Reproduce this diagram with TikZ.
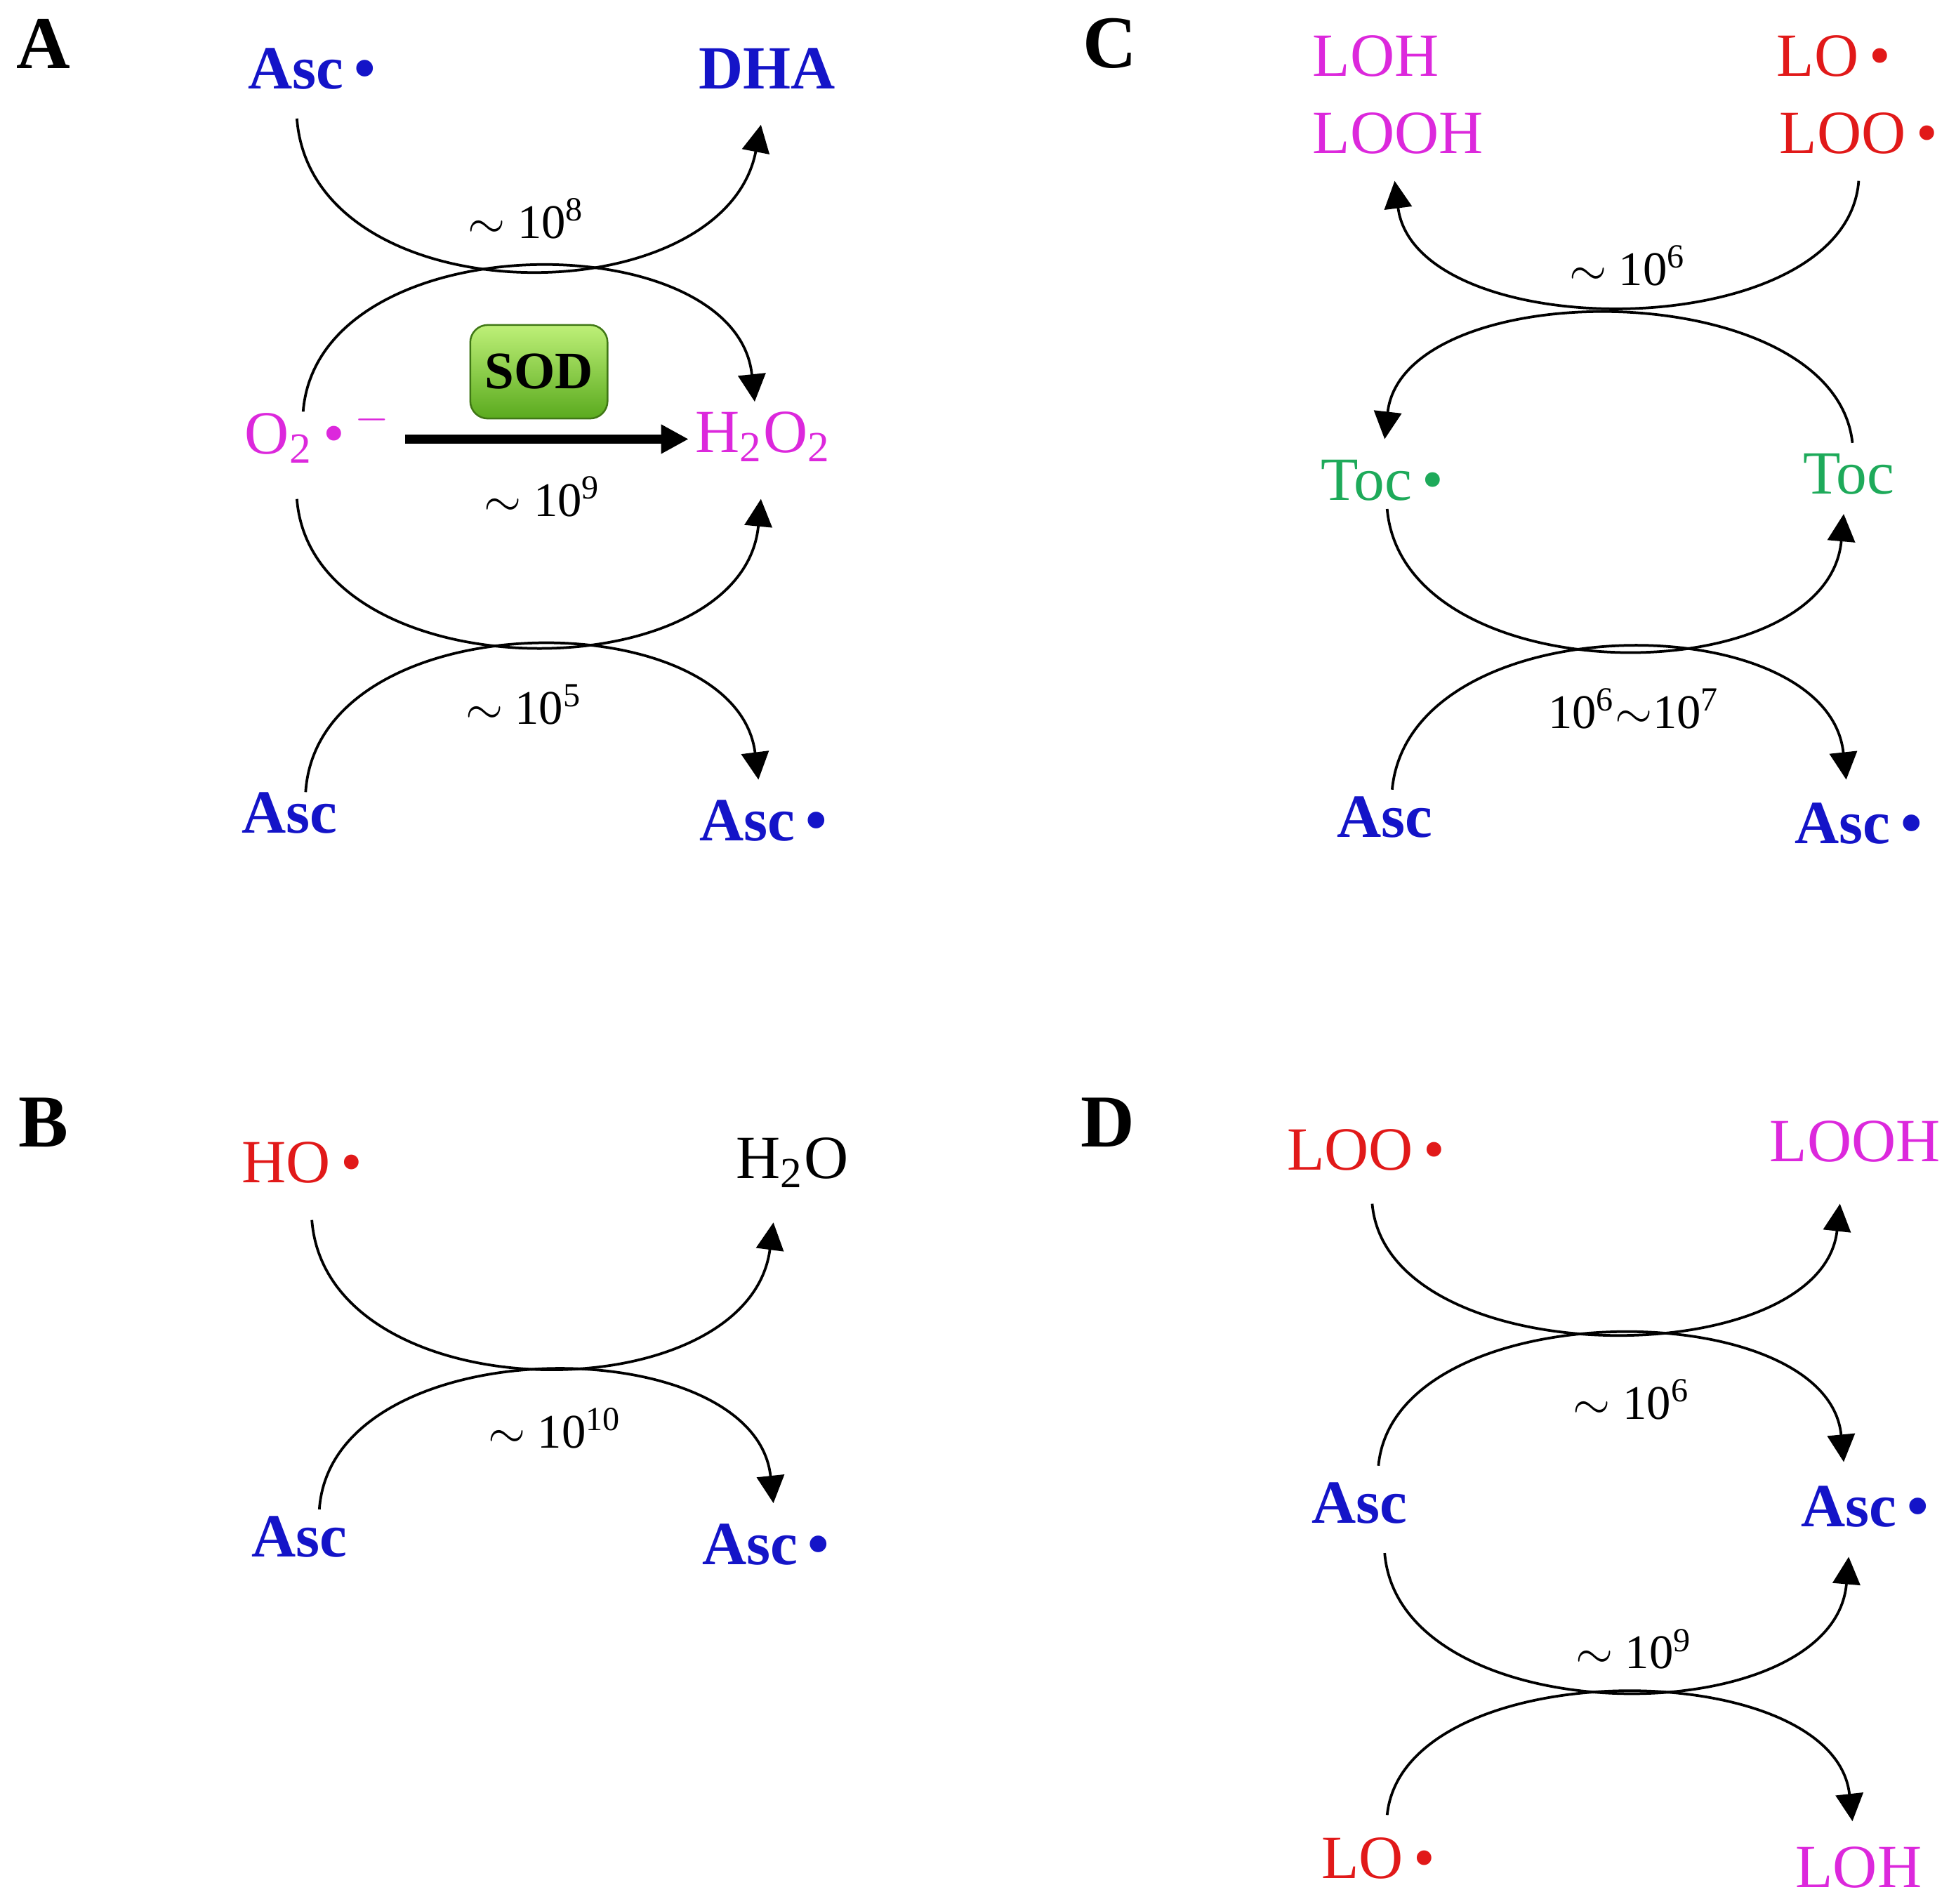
\documentclass[tikz,border=0pt]{standalone}
\usepackage{fontspec}
\setmainfont{Liberation Serif}
\usetikzlibrary{arrows.meta}
\definecolor{ablue}{RGB}{20,20,200}
\definecolor{amag}{RGB}{220,40,220}
\definecolor{ared}{RGB}{225,25,25}
\definecolor{agreen}{RGB}{30,170,90}
\definecolor{sodtop}{RGB}{190,240,120}
\definecolor{sodbot}{RGB}{90,170,30}
\begin{document}
\begin{tikzpicture}[x=0.01cm,y=-0.01cm,
  bl/.style={text=ablue,font=\fontsize{14}{16}\selectfont\bfseries},
  mg/.style={text=amag,font=\fontsize{14}{16}\selectfont},
  rd/.style={text=ared,font=\fontsize{14}{16}\selectfont},
  gr/.style={text=agreen,font=\fontsize{14}{16}\selectfont},
  bk/.style={text=black,font=\fontsize{14}{16}\selectfont},
  lab/.style={font=\fontsize{11}{13}\selectfont},
  pan/.style={font=\fontsize{17}{19}\selectfont\bfseries},
  cv/.style={line width=0.6pt},
  ar/.style={cv,-{Triangle[length=0.22cm,width=0.22cm]}}]
\useasboundingbox (0,0) rectangle (1568,1526);
\def\rad{\,\textbullet}
% Panel A
\node[pan] (pA) at (35,35) {A};
\node[bl] (a1) at (250,55) {Asc\rad};
\node[bl] (a2) at (615,55) {DHA};
\node[mg] (a3) at (255,348) {O\textsubscript{2}\,\textbullet\,\textsuperscript{$-$}};
\node[mg] (a4) at (612,350) {H\textsubscript{2}O\textsubscript{2}};
\node[bl] (a5) at (232,652) {Asc};
\node[bl] (a6) at (612,658) {Asc\rad};
\coordinate (a1s) at (238,95); \coordinate (a2e) at (610,100);
\coordinate (a3t) at (243,330); \coordinate (a4t) at (605,322);
\coordinate (a3b) at (238,400); \coordinate (a4b) at (610,400);
\coordinate (a5t) at (245,635); \coordinate (a6t) at (608,625);
\draw[ar] (a1s) .. controls (250,255) and (580,255) .. (a2e);
\draw[ar] (a3t) .. controls (255,178) and (590,178) .. (a4t);
\draw[ar] (a3b) .. controls (250,556) and (595,556) .. (a4b);
\draw[ar] (a5t) .. controls (255,481) and (590,481) .. (a6t);
\node[lab] (la1) at (422,175) {$\sim$ 10\textsuperscript{8}};
\node[lab] (la2) at (435,398) {$\sim$ 10\textsuperscript{9}};
\node[lab] (la3) at (420,565) {$\sim$ 10\textsuperscript{5}};
\node[draw=sodbot!70!black,rounded corners=4pt,
  inner sep=0pt,minimum width=1.1cm,minimum height=0.75cm,
  top color=sodtop,bottom color=sodbot,
  font=\fontsize{12}{14}\selectfont\bfseries] (sod) at (432,298) {SOD};
\coordinate (sa) at (325,352); \coordinate (sb) at (552,352);
\draw[line width=2pt,-{Triangle[length=0.22cm,width=0.22cm]}] (sa) -- (sb);
% Panel B
\node[pan] (pB) at (35,900) {B};
\node[rd] (b1) at (242,932) {HO\rad};
\node[bk] (b2) at (635,932) {H\textsubscript{2}O};
\node[bl] (b3) at (240,1232) {Asc};
\node[bl] (b4) at (614,1238) {Asc\rad};
\coordinate (b1s) at (250,978); \coordinate (b2e) at (620,980);
\coordinate (b3s) at (256,1210); \coordinate (b4e) at (620,1205);
\draw[ar] (b1s) .. controls (262,1134) and (600,1134) .. (b2e);
\draw[ar] (b3s) .. controls (266,1064) and (605,1064) .. (b4e);
\node[lab] (lb1) at (445,1145) {$\sim$ 10\textsuperscript{10}};
% Panel C
\node[pan] (pC) at (890,35) {C};
\node[mg,anchor=west] (c1) at (1040,45) {LOH};
\node[mg,anchor=west] (c2) at (1040,107) {LOOH};
\node[rd] (c3) at (1470,45) {LO\rad};
\node[rd] (c4) at (1490,107) {LOO\rad};
\node[gr] (c5) at (1108,385) {Toc\rad};
\node[gr] (c6) at (1482,380) {Toc};
\node[bl] (c7) at (1110,655) {Asc};
\node[bl] (c8) at (1490,660) {Asc\rad};
\coordinate (c4s) at (1490,145); \coordinate (c2e) at (1118,145);
\coordinate (c6s) at (1485,355); \coordinate (c5e) at (1110,352);
\coordinate (c5s) at (1112,408); \coordinate (c6e) at (1478,412);
\coordinate (c7s) at (1116,633); \coordinate (c8e) at (1480,625);
\draw[ar] (c4s) .. controls (1480,278) and (1135,278) .. (c2e);
\draw[ar] (c6s) .. controls (1470,219) and (1125,219) .. (c5e);
\draw[ar] (c5s) .. controls (1125,557) and (1465,557) .. (c6e);
\draw[ar] (c7s) .. controls (1130,484) and (1465,484) .. (c8e);
\node[lab] (lc1) at (1305,213) {$\sim$ 10\textsuperscript{6}};
\node[lab] (lc2) at (1310,568) {10\textsuperscript{6}$\sim$10\textsuperscript{7}};
% Panel D
\node[pan] (pD) at (888,900) {D};
\node[rd] (d1) at (1095,922) {LOO\rad};
\node[mg] (d2) at (1487,915) {LOOH};
\node[bl] (d3) at (1090,1205) {Asc};
\node[bl] (d4) at (1495,1208) {Asc\rad};
\node[rd] (d5) at (1105,1490) {LO\rad};
\node[mg] (d6) at (1490,1497) {LOH};
\coordinate (d1s) at (1100,965); \coordinate (d2e) at (1475,965);
\coordinate (d3t) at (1105,1175); \coordinate (d4t) at (1478,1172);
\coordinate (d3b) at (1110,1245); \coordinate (d4b) at (1482,1248);
\coordinate (d5s) at (1112,1455); \coordinate (d6e) at (1485,1460);
\draw[ar] (d1s) .. controls (1112,1102) and (1460,1102) .. (d2e);
\draw[ar] (d3t) .. controls (1118,1036) and (1465,1036) .. (d4t);
\draw[ar] (d3b) .. controls (1122,1391) and (1470,1391) .. (d4b);
\draw[ar] (d5s) .. controls (1125,1325) and (1470,1325) .. (d6e);
\node[lab] (ld1) at (1308,1122) {$\sim$ 10\textsuperscript{6}};
\node[lab] (ld2) at (1310,1322) {$\sim$ 10\textsuperscript{9}};
\end{tikzpicture}
\end{document}
